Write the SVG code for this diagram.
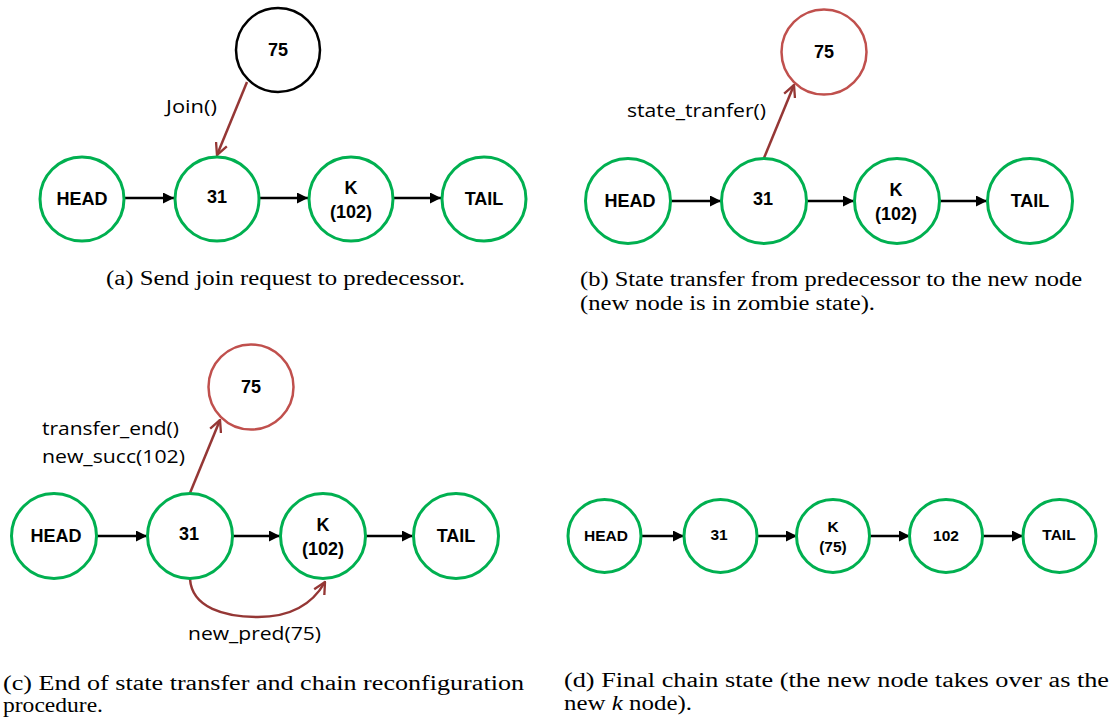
<svg xmlns="http://www.w3.org/2000/svg" width="1120" height="720" viewBox="0 0 1120 720">
<defs>
<style>
.n{fill:#fff;stroke:#00b050;stroke-width:3}
.nb{fill:#fff;stroke:#000;stroke-width:2.5}
.nr{fill:#fff;stroke:#c0504d;stroke-width:2.5}
.t{font-family:"Liberation Sans",Arial,sans-serif;font-weight:bold;font-size:18px;fill:#000;text-anchor:middle}
.ts{font-family:"Liberation Sans",Arial,sans-serif;font-weight:bold;font-size:15.5px;fill:#000;text-anchor:middle}
.lab{font-family:"Open Sans","Liberation Sans",sans-serif;font-size:18px;fill:#000}
.cap{font-family:"Liberation Serif","Times New Roman",serif;font-size:20px;fill:#000}
.a{stroke:#000;stroke-width:2.5;fill:none;marker-end:url(#ah)}
.r{stroke:#953735;stroke-width:2.5;fill:none;marker-end:url(#oh)}
</style>
<marker id="ah" viewBox="0 0 10 10" refX="10" refY="5" markerWidth="11" markerHeight="11" markerUnits="userSpaceOnUse" orient="auto"><path d="M0,0 L10,5 L0,10 z" fill="#000"/></marker>
<marker id="oh" viewBox="0 0 12 12" refX="11" refY="6" markerWidth="14" markerHeight="14" markerUnits="userSpaceOnUse" orient="auto"><path d="M1,1 L11,6 L1,11" fill="none" stroke="#953735" stroke-width="2"/></marker>
</defs>
<rect width="1120" height="720" fill="#fff"/>

<!-- Panel (a) -->
<g id="a-connectors">
<line class="a" x1="124" y1="198" x2="174" y2="198"/>
<line class="a" x1="260" y1="198" x2="308" y2="198"/>
<line class="a" x1="393" y1="198" x2="441" y2="198"/>
<line class="r" x1="247" y1="82" x2="217" y2="155"/>
</g>
<g id="a-75"><circle class="nb" cx="278" cy="50" r="42"/><text class="t" x="278" y="56">75</text></g>
<g id="a-head"><circle class="n" cx="82" cy="199" r="42"/><text class="t" x="82" y="205">HEAD</text></g>
<g id="a-31"><circle class="n" cx="217" cy="199" r="42"/><text class="t" x="217" y="203">31</text></g>
<g id="a-k"><circle class="n" cx="351" cy="199" r="42"/><text class="t" x="351" y="194">K</text><text class="t" x="351" y="218">(102)</text></g>
<g id="a-tail"><circle class="n" cx="484" cy="199" r="42"/><text class="t" x="484" y="205">TAIL</text></g>
<text class="lab" x="166" y="113" textLength="51" lengthAdjust="spacingAndGlyphs">Join()</text>
<text class="cap" x="106" y="285" textLength="359" lengthAdjust="spacingAndGlyphs">(a) Send join request to predecessor.</text>

<!-- Panel (b) -->
<g id="b-connectors">
<line class="a" x1="671" y1="201" x2="721" y2="201"/>
<line class="a" x1="807" y1="201" x2="854" y2="201"/>
<line class="a" x1="940" y1="201" x2="987" y2="201"/>
<line class="r" x1="764" y1="158" x2="794" y2="85"/>
</g>
<g id="b-75"><circle class="nr" cx="824" cy="52" r="42.5"/><text class="t" x="824" y="58">75</text></g>
<g id="b-head"><circle class="n" cx="628" cy="201" r="42.5"/><text class="t" x="630" y="207">HEAD</text></g>
<g id="b-31"><circle class="n" cx="764" cy="201" r="42.5"/><text class="t" x="763" y="205">31</text></g>
<g id="b-k"><circle class="n" cx="897" cy="201" r="42.5"/><text class="t" x="896" y="196">K</text><text class="t" x="896" y="220">(102)</text></g>
<g id="b-tail"><circle class="n" cx="1030" cy="201" r="42.5"/><text class="t" x="1030" y="207">TAIL</text></g>
<text class="lab" x="627" y="117" textLength="139" lengthAdjust="spacingAndGlyphs">state_tranfer()</text>
<text class="cap" x="580" y="286" textLength="502" lengthAdjust="spacingAndGlyphs">(b) State transfer from predecessor to the new node</text>
<text class="cap" x="580" y="310" textLength="295" lengthAdjust="spacingAndGlyphs">(new node is in zombie state).</text>

<!-- Panel (c) -->
<g id="c-connectors">
<line class="a" x1="97" y1="536" x2="147" y2="536"/>
<line class="a" x1="233" y1="536" x2="280" y2="536"/>
<line class="a" x1="366" y1="536" x2="413" y2="536"/>
<line class="r" x1="190" y1="493" x2="220" y2="420"/>
<path class="r" d="M190,579 C192,608 225,617 258,617 C290,617 312,605 325,582"/>
</g>
<g id="c-75"><circle class="nr" cx="251" cy="387" r="42.5"/><text class="t" x="251" y="393">75</text></g>
<g id="c-head"><circle class="n" cx="54" cy="536" r="42.5"/><text class="t" x="56" y="542">HEAD</text></g>
<g id="c-31"><circle class="n" cx="190" cy="536" r="42.5"/><text class="t" x="189" y="540">31</text></g>
<g id="c-k"><circle class="n" cx="323" cy="536" r="42.5"/><text class="t" x="323" y="531">K</text><text class="t" x="323" y="555">(102)</text></g>
<g id="c-tail"><circle class="n" cx="456" cy="536" r="42.5"/><text class="t" x="456" y="542">TAIL</text></g>
<text class="lab" x="42" y="435" textLength="137" lengthAdjust="spacingAndGlyphs">transfer_end()</text>
<text class="lab" x="42" y="463" textLength="143" lengthAdjust="spacingAndGlyphs">new_succ(102)</text>
<text class="lab" x="188" y="640" textLength="133" lengthAdjust="spacingAndGlyphs">new_pred(75)</text>
<text class="cap" x="3" y="690" textLength="521" lengthAdjust="spacingAndGlyphs">(c) End of state transfer and chain reconfiguration</text>
<text class="cap" x="3" y="712" textLength="100" lengthAdjust="spacingAndGlyphs">procedure.</text>

<!-- Panel (d) -->
<g id="d-connectors">
<line class="a" x1="641" y1="536" x2="684" y2="536"/>
<line class="a" x1="757" y1="536" x2="797" y2="536"/>
<line class="a" x1="870" y1="536" x2="910" y2="536"/>
<line class="a" x1="983" y1="536" x2="1023" y2="536"/>
</g>
<g id="d-head"><circle class="n" cx="604.5" cy="536" r="36.5"/><text class="ts" x="606" y="541">HEAD</text></g>
<g id="d-31"><circle class="n" cx="720.5" cy="536" r="36.5"/><text class="ts" x="719" y="540">31</text></g>
<g id="d-k"><circle class="n" cx="833" cy="536" r="36.5"/><text class="ts" x="833" y="532">K</text><text class="ts" x="833" y="552">(75)</text></g>
<g id="d-102"><circle class="n" cx="946" cy="536" r="36.5"/><text class="ts" x="946" y="541">102</text></g>
<g id="d-tail"><circle class="n" cx="1059.5" cy="536" r="36.5"/><text class="ts" x="1059" y="540">TAIL</text></g>
<text class="cap" x="564" y="687" textLength="545" lengthAdjust="spacingAndGlyphs">(d) Final chain state (the new node takes over as the</text>
<text class="cap" x="564" y="710" textLength="128" lengthAdjust="spacingAndGlyphs">new <tspan font-style="italic">k</tspan> node).</text>
</svg>
